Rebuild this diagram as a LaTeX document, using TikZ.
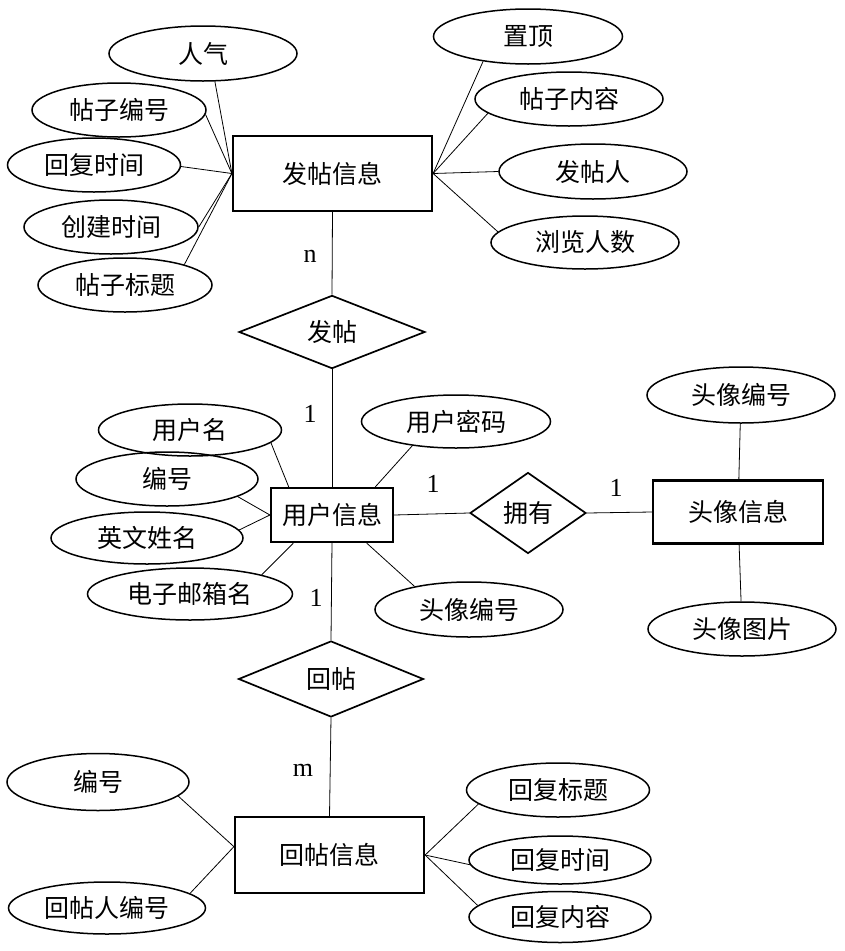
\documentclass[tikz,border=0pt]{standalone}
\usepackage{fontspec}
\setmainfont{Liberation Serif}
\newfontfamily\cjk{Noto Sans CJK SC}
\usetikzlibrary{shapes.geometric}

\begin{document}
\begin{tikzpicture}[
    x=1pt, y=-1pt,
    font=\cjk\fontsize{25}{28}\selectfont,
    entity/.style={draw, line width=2.2pt, inner sep=0pt},
    attr/.style={draw, ellipse, line width=1.5pt, inner sep=0pt, minimum width=188pt, minimum height=54pt},
    rel/.style={draw, diamond, line width=1.7pt, inner sep=0pt},
    link/.style={line width=0.8pt},
    card/.style={font=\rmfamily\fontsize{26}{28}\selectfont}
]
\useasboundingbox (0,0) rectangle (845,951);

% entities
\node[entity, minimum width=199pt, minimum height=75pt] (post) at (332.5,173.5) {发帖信息};
\node[entity, minimum width=122pt, minimum height=54pt] (user) at (332,515) {用户信息};
\node[entity, minimum width=170pt, minimum height=63pt] (avatar) at (738,512) {头像信息};
\node[entity, minimum width=189pt, minimum height=76pt] (reply) at (329.5,855) {回帖信息};

% relationships
\node[rel, minimum width=186pt, minimum height=69pt] (fatie) at (332,332) {发帖};
\node[rel, minimum width=116pt, minimum height=81pt] (own) at (528,513) {拥有};
\node[rel, minimum width=185pt, minimum height=76pt] (huitie) at (331,679) {回帖};

% attributes of 发帖信息
\node[attr, minimum height=55pt] (popular) at (203,53.5) {人气};
\node[attr, minimum width=174pt] (postid) at (119,110) {帖子编号};
\node[attr, minimum width=173pt] (replytime) at (94,165) {回复时间};
\node[attr, minimum width=174pt] (created) at (111,227) {创建时间};
\node[attr, minimum width=174pt] (title) at (125,285) {帖子标题};
\node[attr, minimum width=189pt, minimum height=55pt] (top) at (528,36.5) {置顶};
\node[attr] (content) at (569,99) {帖子内容};
\node[attr, minimum height=55pt] (poster) at (593,171.5) {发帖人};
\node[attr, minimum height=53pt] (views) at (585,242.5) {浏览人数};

% attributes of 用户信息
\node[attr, minimum width=183pt, minimum height=52pt] (uname) at (190,430) {用户名};
\node[attr, minimum width=182pt] (uid) at (167,479) {编号};
\node[attr, minimum width=192pt, minimum height=52pt] (ename) at (147,538) {英文姓名};
\node[attr, minimum width=205pt, minimum height=52pt] (email) at (190,594) {电子邮箱名};
\node[attr, minimum width=189pt, minimum height=53pt] (pwd) at (456,421.5) {用户密码};
\node[attr, minimum height=55pt] (uavatar) at (469,609.5) {头像编号};

% attributes of 头像信息
\node[attr, minimum height=56pt] (avid) at (741,395) {头像编号};
\node[attr] (avimg) at (742,629) {头像图片};

% attributes of 回帖信息
\node[attr, minimum width=182pt, minimum height=57pt] (rid) at (98,782) {编号};
\node[attr, minimum width=197pt, minimum height=52pt] (ruser) at (107,908) {回帖人编号};
\node[attr, minimum width=183pt] (rtitle) at (558,790) {回复标题};
\node[attr, minimum width=182pt, minimum height=48pt] (rtime) at (560,860) {回复时间};
\node[attr, minimum width=182pt, minimum height=51pt] (rcontent) at (560,917) {回复内容};

% cardinalities
\node[card] (cn) at (310,256) {n};
\node[card] (c1a) at (310,414) {1};
\node[card] (c1b) at (433,484) {1};
\node[card] (c1c) at (616,488) {1};
\node[card] (c1d) at (316,598) {1};
\node[card] (cm) at (303,770) {m};

% relationship links
\draw[link] (post.south) -- (fatie.north);
\draw[link] (fatie.south) -- (user.north);
\draw[link] (user.south) -- (huitie.north);
\draw[link] (huitie.south) -- (reply.north);
\draw[link] (user.east) -- (own.west);
\draw[link] (own.east) -- (avatar.west);

% attribute links
\foreach \a/\ang in {popular/293, postid/357, replytime/359, created/0, title/19}
    \draw[link] (\a.\ang) -- (post.west);
\foreach \a/\ang in {top/209, content/190, poster/180, views/173}
    \draw[link] (\a.\ang) -- (post.east);
\draw[link] (uname.351) -- (user.147);
\draw[link] (uid.346) -- (user.west);
\draw[link] (ename.5) -- (user.west);
\draw[link] (email.15) -- (user.216);
\draw[link] (pwd.209) -- (user.33);
\draw[link] (uavatar.157) -- (user.321);
\draw[link] (avid) -- (avatar);
\draw[link] (avimg) -- (avatar);
\draw[link] (rid.350) -- (reply.175);
\draw[link] (ruser.10) -- (reply.175);
\foreach \a/\ang in {rtitle/190, rtime/183, rcontent/172}
    \draw[link] (\a.\ang) -- (reply.east);
\end{tikzpicture}
\end{document}
